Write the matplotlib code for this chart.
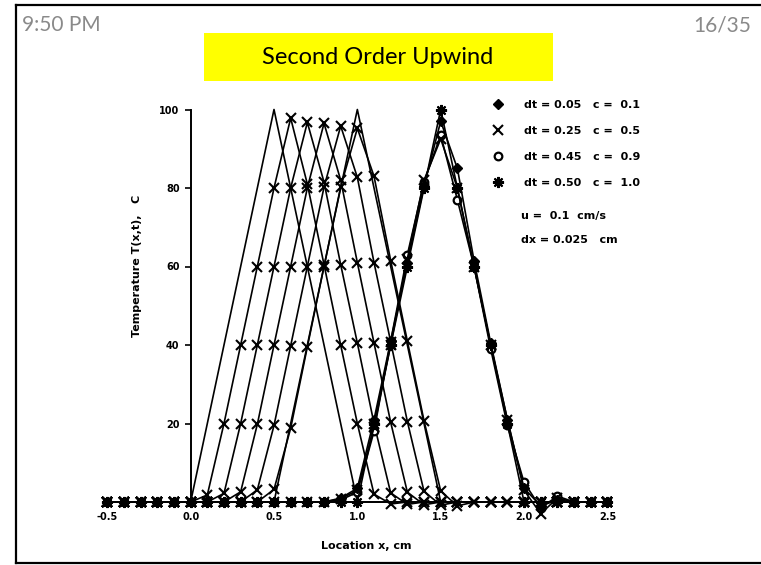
import matplotlib
matplotlib.use("Agg")
import matplotlib.pyplot as plt
from matplotlib.lines import Line2D
from matplotlib.patches import Rectangle

# ---- data -------------------------------------------------------------
x_grid = [-0.5, -0.4, -0.3, -0.2, -0.1, 0.0, 0.1, 0.2, 0.3, 0.4,
          0.5, 0.6, 0.7, 0.8, 0.9, 1.0, 1.1, 1.2, 1.3, 1.4,
          1.5, 1.6, 1.7, 1.8, 1.9, 2.0, 2.1, 2.2, 2.3, 2.4, 2.5]

# initial triangular pulse and its exact translate
initial_pulse = [0, 0, 0, 0, 0, 0, 20, 40, 60, 80,
                 100, 80, 60, 40, 20, 0, 0, 0, 0, 0,
                 0, 0, 0, 0, 0, 0, 0, 0, 0, 0, 0]
exact_pulse = [0, 0, 0, 0, 0, 0, 0, 0, 0, 0,
               0, 20, 40, 60, 80, 100, 80, 60, 40, 20,
               0, 0, 0, 0, 0, 0, 0, 0, 0, 0, 0]

# c = 0.5 solution at successive output times
c05_t1 = [0, 0, 0, 0, 0, 0, 1.8, 20, 40, 60,
          80, 97.8, 81, 60.5, 40, 20, 2, -0.5, 0, 0,
          0, 0, 0, 0, 0, 0, 0, 0, 0, 0, 0]
c05_t2 = [0, 0, 0, 0, 0, 0, 0, 2.2, 20, 40,
          60, 80, 96.7, 81.5, 60.5, 40.5, 20, 2.3, -0.6, 0,
          0, 0, 0, 0, 0, 0, 0, 0, 0, 0, 0]
c05_t3 = [0, 0, 0, 0, 0, 0, 0, 0, 2.6, 19.8,
          40, 60, 80, 96.5, 82, 61, 40.5, 20.3, 2.5, -0.7,
          0, 0, 0, 0, 0, 0, 0, 0, 0, 0, 0]
c05_t4 = [0, 0, 0, 0, 0, 0, 0, 0, 0, 3.1,
          19.5, 39.8, 60, 80.2, 95.8, 82.7, 61, 40.8, 20.5, 2.7,
          -0.8, 0, 0, 0, 0, 0, 0, 0, 0, 0, 0]
c05_t5 = [0, 0, 0, 0, 0, 0, 0, 0, 0, 0,
          3.2, 18.8, 39.5, 60, 80.3, 95.2, 83, 61.5, 41, 20.7,
          2.8, -1.0, 0, 0, 0, 0, 0, 0, 0, 0, 0]

# all four Courant numbers at the final time
final_c01 = [0, 0, 0, 0, 0, 0, 0, 0, 0, 0,
             0, 0, 0, 0, 1, 3.5, 21, 41, 61, 80.5,
             97, 85, 61.5, 40.5, 21, 3.5, -1, 0.5, 0, 0, 0]
final_c05 = [0, 0, 0, 0, 0, 0, 0, 0, 0, 0,
             0, 0, 0, 0, 0.8, 3, 19, 40, 62, 82,
             92.5, 80, 60, 40, 21, 3, -3, 1, 0, 0, 0]
final_c09 = [0, 0, 0, 0, 0, 0, 0, 0, 0, 0,
             0, 0, 0, 0, 0.5, 2.5, 18, 41, 63, 81.5,
             93.5, 77, 60, 39, 19.5, 5, -1.5, 1.5, 0, 0, 0]
final_c10 = [0, 0, 0, 0, 0, 0, 0, 0, 0, 0,
             0, 0, 0, 0, 0, 0, 20, 40, 60, 80,
             100, 80, 60, 40, 20, 0, 0, 0, 0, 0, 0]

legend_labels = ["dt = 0.05   c =  0.1", "dt = 0.25   c =  0.5",
                 "dt = 0.45   c =  0.9", "dt = 0.50   c =  1.0"]
x_ticks = [-0.5, 0.0, 0.5, 1.0, 1.5, 2.0, 2.5]
x_tick_labels = ["-0.5", "0.0", "0.5", "1.0", "1.5", "2.0", "2.5"]
y_ticks = [20, 40, 60, 80, 100]
y_tick_labels = ["20", "40", "60", "80", "100"]

# ---- figure -----------------------------------------------------------
W, H = 761, 565
fig = plt.figure(figsize=(W / 100, H / 100), dpi=100)
fig.patch.set_facecolor("white")


def fx(px):
    return px / W


def fy(py):
    return (H - py) / H


# slide frame
frame_kw = dict(color="black", lw=1.6, transform=fig.transFigure)
fig.add_artist(Line2D([fx(16), fx(16)], [fy(5), fy(563)], **frame_kw))
fig.add_artist(Line2D([fx(16), 1.0], [fy(5), fy(5)], **frame_kw))
fig.add_artist(Line2D([fx(16), 1.0], [fy(563), fy(563)], **frame_kw))

# header
fig.text(fx(22), fy(31), "9:50 PM", color="#8a8a8a", fontsize=15,
         family="Lato", ha="left", va="baseline")
fig.text(fx(751), fy(31), "16/35", color="#8a8a8a", fontsize=15,
         family="Lato", ha="right", va="baseline")
fig.add_artist(Rectangle((fx(204), fy(81)), fx(553) - fx(204), fy(33) - fy(81),
                         transform=fig.transFigure, facecolor="#ffff00",
                         edgecolor="none"))
fig.text(fx(378), fy(57), "Second Order Upwind", color="black", fontsize=17,
         family="Lato", ha="center", va="center")

# ---- axes -------------------------------------------------------------
ax_left, ax_right = 107.3, 607.4
ax_top, ax_bottom = 109.5, 502.0
ax = fig.add_axes([fx(ax_left), fy(ax_bottom),
                   fx(ax_right) - fx(ax_left), fy(ax_top) - fy(ax_bottom)])
ax.set_xlim(-0.5, 2.5)
ax.set_ylim(0, 100)
ax.set_facecolor("none")

line_kw = dict(color="black", lw=1.2, clip_on=False)

ax.plot(x_grid, initial_pulse, **line_kw)
ax.plot(x_grid, exact_pulse, **line_kw)
for series in (c05_t1, c05_t2, c05_t3, c05_t4, c05_t5):
    ax.plot(x_grid, series, marker="x", ms=6.5, mew=1.5, mec="black", **line_kw)

# final-time curves; drawn so that the filled symbols end up on top
h3, = ax.plot(x_grid, final_c09, marker="o", ms=5.5, mew=1.6, mfc="white",
              mec="black", label=legend_labels[2], **line_kw)
h2, = ax.plot(x_grid, final_c05, marker="x", ms=6.5, mew=1.5,
              mec="black", label=legend_labels[1], **line_kw)
h4, = ax.plot(x_grid, final_c10, marker=(8, 2, 0), ms=8, mew=1.5,
              mec="black", label=legend_labels[3], **line_kw)
h1, = ax.plot(x_grid, final_c01, marker="D", ms=5.2, mfc="black",
              mec="black", label=legend_labels[0], **line_kw)

# axis styling
for side in ("top", "right"):
    ax.spines[side].set_visible(False)
ax.spines["left"].set_position(("data", 0))
ax.spines["left"].set_linewidth(1.4)
ax.spines["bottom"].set_linewidth(1.4)

tick_font = dict(family="DejaVu Sans", weight="bold", size=7)
label_font = dict(family="DejaVu Sans", weight="bold", size=8)
ax.set_yticks(y_ticks)
ax.set_yticklabels(y_tick_labels, **tick_font)
ax.set_xticks(x_ticks)
ax.set_xticklabels(x_tick_labels, **tick_font)
ax.tick_params(axis="y", direction="out", length=4, width=1.2, pad=4)
ax.tick_params(axis="x", length=0, pad=7)

fig.text(fx(137), fy(266), "Temperature T(x,t),   C", rotation=90,
         ha="center", va="center", **label_font)
fig.text(fx(366), fy(546), "Location x, cm", ha="center", va="center",
         **label_font)

leg = ax.legend(handles=[h1, h2, h3, h4], loc="upper left",
                bbox_to_anchor=(fx(488), fy(90)), bbox_transform=fig.transFigure,
                frameon=False, handlelength=0, handletextpad=2.3,
                labelspacing=1.45, numpoints=1,
                prop=dict(family="DejaVu Sans", weight="bold", size=8))

fig.text(fx(521), fy(216), "u =  0.1  cm/s", ha="left", va="center", **label_font)
fig.text(fx(521), fy(240), "dx = 0.025   cm", ha="left", va="center", **label_font)

fig.savefig("out.png", dpi=100)
